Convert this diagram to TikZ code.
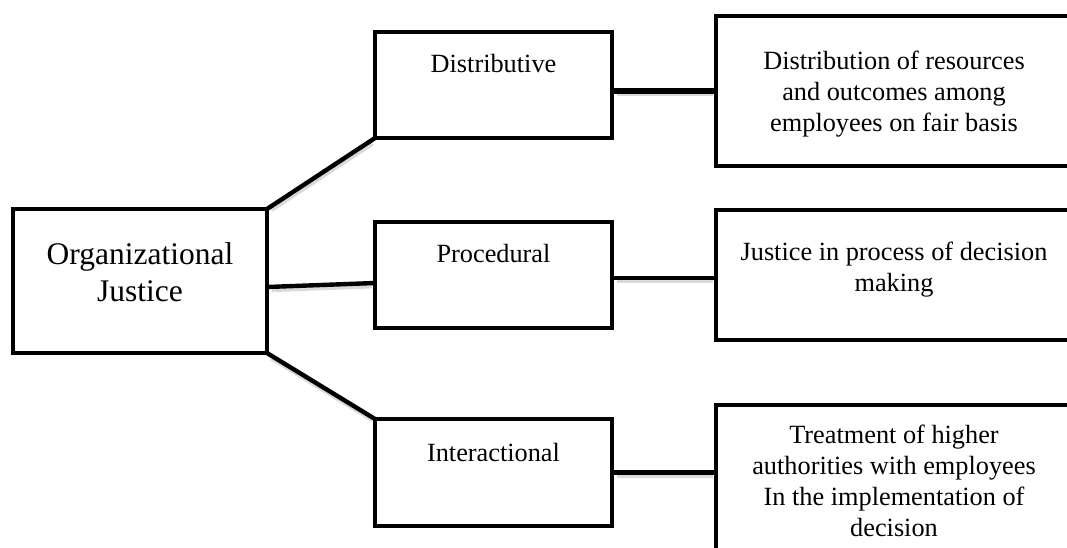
\documentclass[tikz,border=0pt]{standalone}
\usepackage{fontspec}
\setmainfont{Liberation Serif}
\usetikzlibrary{
	calc
}

\begin{document}
\begin{tikzpicture}[
	x=1pt, y=-1pt,
	box/.style={draw, rectangle, line width=4.8pt, inner sep=0, outer sep=0},
	midbox/.style={box, minimum width=237pt, minimum height=106pt},
	rightbox/.style={box, minimum width=356pt},
	bigtext/.style={font=\fontsize{31.5}{37}\selectfont, align=center, inner sep=0},
	smalltext/.style={font=\fontsize{26.3}{31}\selectfont, align=center, inner sep=0},
	toptext/.style={smalltext, anchor=north, yshift=-22pt},
	link/.style={line width=4.4pt, preaction={draw=black!15, line width=4.5pt,
		shorten <=4pt, shorten >=4pt, transform canvas={shift={(1pt,-3pt)}}}}
]
	\useasboundingbox (0,0) rectangle (1067,547);
	\clip (0,0) rectangle (1067,547);

	\node(org)[box, minimum width=254pt, minimum height=144pt,
		label={[bigtext, yshift=9pt]center:{Organizational\\Justice}}] at (140,281) {};

	% middle column
	\node(dist)[midbox, label={[toptext]north:Distributive}] at (493.5,85) {};
	\node(proc)[midbox, label={[toptext]north:Procedural}] at (493.5,275) {};
	\node(inter)[midbox, minimum height=107pt, label={[toptext, yshift=-2pt]north:Interactional}] at (493.5,472.5) {};

	% right column
	\node(rdist)[rightbox, minimum height=150pt,
		label={[smalltext, yshift=-3pt]center:{Distribution of resources\\and outcomes among\\employees on fair basis}}] at (894,91) {};
	\node(rproc)[rightbox, minimum height=130pt,
		label={[smalltext, yshift=5pt]center:{Justice in process of decision\\making}}] at (894,275) {};
	\node(rinter)[rightbox, minimum height=155pt,
		label={[smalltext, yshift=2pt]center:{Treatment of higher\\authorities with employees\\In the implementation of\\decision}}] at (894,482.5) {};

	\draw[link] (org.north east) -- (dist.south west);
	\draw[link] ([yshift=-6pt]org.east) -- ([yshift=-8pt]proc.west);
	\draw[link] (org.south east) -- (inter.north west);

	\draw[link, line width=6.5pt] ([yshift=-6pt]dist.east) -- (rdist.west);
	\draw[link] ([yshift=-3pt]proc.east) -- ([yshift=-3pt]rproc.west);
	\draw[link] (inter.east) -- (inter.east -| rinter.west);
\end{tikzpicture}
\end{document}
